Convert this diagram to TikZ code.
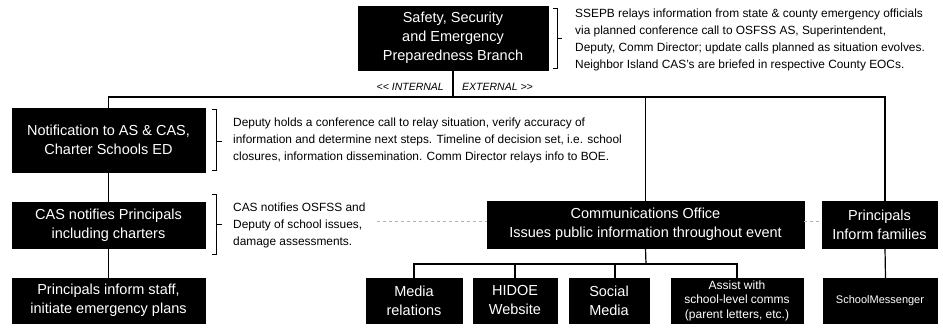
\documentclass[tikz,border=0pt]{standalone}
\usepackage{fontspec}
\setmainfont{Liberation Sans}
\begin{document}
\begin{tikzpicture}[x=1pt,y=-1pt,
  blk/.style={fill=black,text=white,draw=black,inner sep=0pt,align=center,
    font=\fontsize{14.5}{19}\selectfont},
  smallblk/.style={blk,font=\fontsize{12}{14.5}\selectfont},
  note/.style={anchor=west,inner sep=0pt,align=left,font=\fontsize{11.9}{17}\selectfont},
  lbl/.style={inner sep=0pt,font=\fontsize{10.5}{12}\selectfont\itshape},
  conn/.style={line width=1.2pt},
  brk/.style={line width=0.8pt},
  faint/.style={draw=black!30,dashed,line width=0.6pt}]
\useasboundingbox (0,0) rectangle (943,327);
% boxes
\node[blk,minimum width=190pt,minimum height=64pt] (ssepb) at (453,38) {Safety, Security\\and Emergency\\Preparedness Branch};
\node[blk,minimum width=193pt,minimum height=64pt] (notif) at (108.5,140) {Notification to AS \& CAS,\\Charter Schools ED};
\node[blk,minimum width=193pt,minimum height=46pt] (casn) at (108.5,225) {CAS notifies Principals\\including charters};
\node[blk,minimum width=193pt,minimum height=45pt] (pstaff) at (108.5,300.5) {Principals inform staff,\\initiate emergency plans};
\node[blk,minimum width=317pt,minimum height=47pt] (comm) at (645.5,224.5) {Communications Office\\Issues public information throughout event};
\node[blk,minimum width=115pt,minimum height=47pt] (pfam) at (879.5,224.5) {Principals\\Inform families};
\node[blk,minimum width=96pt,minimum height=45pt] (media) at (414,300.5) {Media\\relations};
\node[blk,minimum width=84pt,minimum height=45pt] (hidoe) at (515,300.5) {HIDOE\\Website};
\node[blk,minimum width=80pt,minimum height=45pt] (social) at (609,300.5) {Social\\Media};
\node[smallblk,minimum width=132pt,minimum height=45pt] (assist) at (737,300.5) {Assist with\\school-level comms\\(parent letters, etc.)};
\node[blk,font=\fontsize{11}{14}\selectfont,minimum width=114pt,minimum height=45pt] (smsg) at (880,300.5) {SchoolMessenger};
% notes
\node[note] (n1) at (575,40) {SSEPB relays information from state \& county emergency officials\\via planned conference call to OSFSS AS, Superintendent,\\Deputy, Comm Director; update calls planned as situation evolves.\\Neighbor Island CAS's are briefed in respective County EOCs.};
\node[note] (n2) at (233,140) {Deputy holds a conference call to relay situation, verify accuracy of\\information and determine next steps. Timeline of decision set, i.e. school\\closures, information dissemination. Comm Director relays info to BOE.};
\node[note] (n3) at (233,225) {CAS notifies OSFSS and\\Deputy of school issues,\\damage assessments.};
\node[lbl,anchor=east] (int) at (444,87) {\textless{}\textless{} INTERNAL};
\node[lbl,anchor=west] (ext) at (462,87) {EXTERNAL \textgreater{}\textgreater{}};
% brackets
\draw[brk] (553,8) -- (557,8) -- (557,68) -- (553,68) (557,38) -- (562,38);
\draw[brk] (212,109) -- (216,109) -- (216,170) -- (212,170) (216,141) -- (222,141);
\draw[brk] (212,194) -- (216,194) -- (216,254) -- (212,254) (216,224) -- (222,224);
% connectors
\coordinate (tb) at (453,97);
\coordinate (bus) at (646,264);
\draw[conn] (ssepb.south) -- (tb);
\draw[conn] (notif.north) |- (tb);
\draw[conn] (tb) -| ([xshift=5.5pt]pfam.north);
\draw[conn] (tb) -| (comm.north);
\draw[conn] (notif.south) -- (casn.north);
\draw[conn] (casn.south) -- (pstaff.north);
\draw[conn] (comm.south) -- (bus);
\draw[conn] (media.north) |- (bus);
\draw[conn] (hidoe.north) |- (bus);
\draw[conn] ([xshift=6pt]social.north) |- (bus);
\draw[conn] (assist.north) |- (bus);
\draw[conn] ([xshift=5.5pt]pfam.south) -- ([xshift=5.5pt]smsg.north);
% faint lines
\coordinate (fl) at (377,221);
\draw[faint] (fl) -- (comm.west |- fl);
\draw[faint] (comm.east |- fl) -- (pfam.west |- fl);
\end{tikzpicture}
\end{document}
